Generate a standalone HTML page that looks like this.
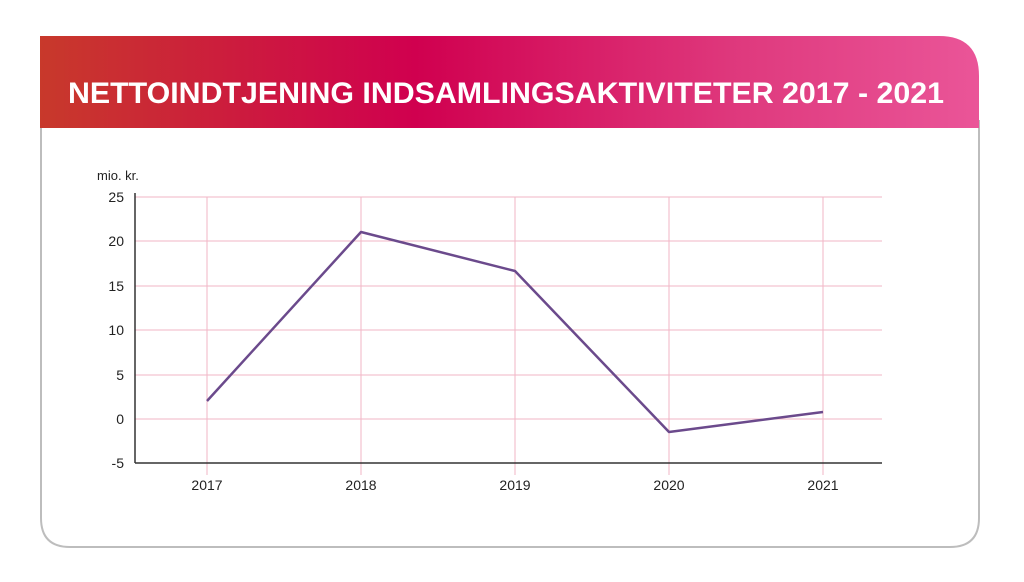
<!DOCTYPE html>
<html><head><meta charset="utf-8"><style>
html,body{margin:0;padding:0;background:#fff;width:1024px;height:582px;overflow:hidden}
</style></head><body>
<svg width="1024" height="582" viewBox="0 0 1024 582" xmlns="http://www.w3.org/2000/svg" font-family="Liberation Sans, sans-serif">
<defs>
<linearGradient id="g" x1="0" x2="1" y1="0" y2="0">
<stop offset="0" stop-color="#c8392b"/>
<stop offset="0.4" stop-color="#d0004f"/>
<stop offset="0.75" stop-color="#df3a7e"/>
<stop offset="1" stop-color="#ea5598"/>
</linearGradient>
</defs>
<path d="M41,120 L41,518 Q41,547 70,547 L950,547 Q979,547 979,518 L979,120" fill="#fff" stroke="#bdbdbd" stroke-width="2"/>
<path d="M40,36 L939,36 Q979,36 979,76 L979,128 L40,128 Z" fill="url(#g)"/>
<text x="68" y="103" fill="#fff" font-size="30" font-weight="bold" textLength="876" lengthAdjust="spacingAndGlyphs">NETTOINDTJENING INDSAMLINGSAKTIVITETER 2017 - 2021</text>
<g stroke="#f2b6c6" stroke-width="1">
<line x1="135" y1="197" x2="882" y2="197"/>
<line x1="135" y1="241" x2="882" y2="241"/>
<line x1="135" y1="286" x2="882" y2="286"/>
<line x1="135" y1="330" x2="882" y2="330"/>
<line x1="135" y1="375" x2="882" y2="375"/>
<line x1="135" y1="419" x2="882" y2="419"/>
<line x1="207" y1="197" x2="207" y2="475"/>
<line x1="361" y1="197" x2="361" y2="475"/>
<line x1="515" y1="197" x2="515" y2="475"/>
<line x1="669" y1="197" x2="669" y2="475"/>
<line x1="823" y1="197" x2="823" y2="475"/>
</g>
<line x1="135" y1="193" x2="135" y2="463" stroke="#333" stroke-width="1.5"/>
<line x1="135" y1="463" x2="882" y2="463" stroke="#333" stroke-width="1.5"/>
<g font-size="14" fill="#222" text-anchor="end">
<text x="124" y="202">25</text><text x="124" y="246">20</text><text x="124" y="291">15</text>
<text x="124" y="335">10</text><text x="124" y="380">5</text><text x="124" y="424">0</text><text x="124" y="468">-5</text>
</g>
<text x="97" y="180" font-size="13" fill="#222">mio. kr.</text>
<g font-size="14" fill="#222" text-anchor="middle">
<text x="207" y="490">2017</text><text x="361" y="490">2018</text><text x="515" y="490">2019</text>
<text x="669" y="490">2020</text><text x="823" y="490">2021</text>
</g>
<polyline points="207,401 361,232 515,271 669,432 823,412" fill="none" stroke="#6b4a8c" stroke-width="2.5" stroke-linejoin="round"/>
</svg>
</body></html>
